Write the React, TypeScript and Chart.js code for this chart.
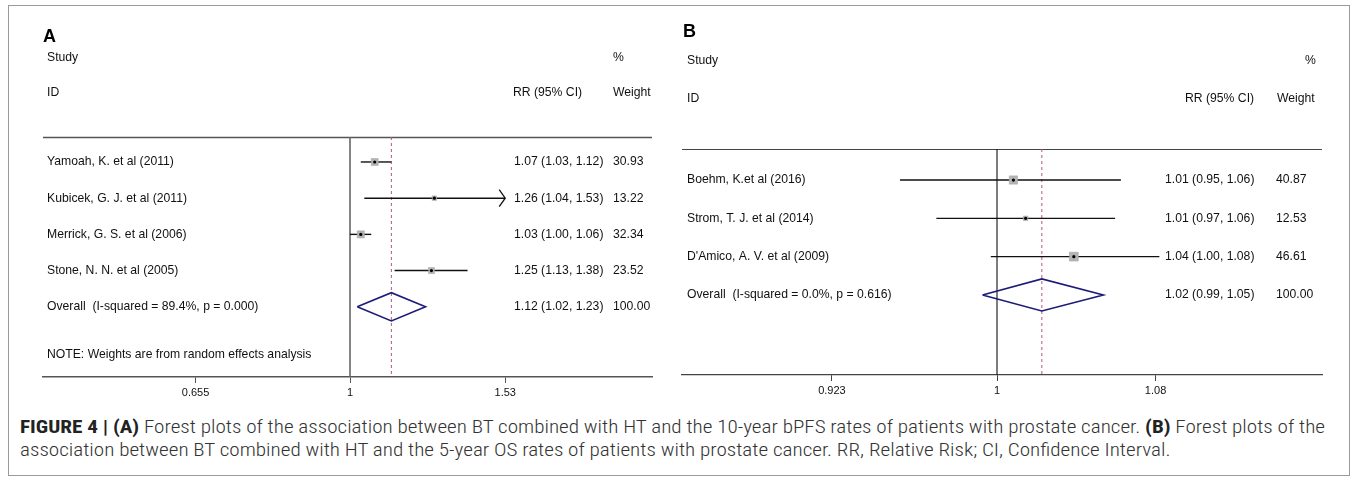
import React, { useEffect, useLayoutEffect, useRef } from "react";
import { Chart, registerables } from "chart.js";

Chart.register(...registerables);

const FONT = '"Liberation Sans", Arial, Helvetica, sans-serif';

// ---------------- Panel A data ----------------
const studiesA = [
  "Yamoah, K. et al (2011)",
  "Kubicek, G. J. et al (2011)",
  "Merrick, G. S. et al (2006)",
  "Stone, N. N. et al (2005)",
];
const rrA = [1.07, 1.26, 1.03, 1.25];
const lowerA = [1.03, 1.04, 1.0, 1.13];
const upperA = [1.12, 1.53, 1.06, 1.38];
const weightsA = [30.93, 13.22, 32.34, 23.52];
const arrowsA = [false, true, false, false];
const overallA = [1.12, 1.02, 1.23]; // RR, lower, upper
const overallLabelA = "Overall  (I-squared = 89.4%, p = 0.000)";
const noteA = "NOTE: Weights are from random effects analysis";
const tickValuesA = [0.655, 1, 1.53];
const tickLabelsA = ["0.655", "1", "1.53"];

// ---------------- Panel B data ----------------
const studiesB = [
  "Boehm, K.et al (2016)",
  "Strom, T. J. et al (2014)",
  "D'Amico, A. V. et al (2009)",
];
const rrB = [1.008, 1.014, 1.038];
const lowerB = [0.954, 0.971, 0.997];
const upperB = [1.062, 1.059, 1.082];
const weightsB = [40.87, 12.53, 46.61];
const arrowsB = [false, false, false];
const overallB = [1.022, 0.993, 1.053];
const overallLabelB = "Overall  (I-squared = 0.0%, p = 0.616)";
const tickValuesB = [0.923, 1, 1.08];
const tickLabelsB = ["0.923", "1", "1.08"];

type Panel = {
  letter: string;
  studies: string[];
  rr: number[];
  lower: number[];
  upper: number[];
  weights: number[];
  arrows: boolean[];
  overall: number[];
  overallLabel: string;
  note: string | null;
  tickValues: number[];
  tickLabels: string[];
  w: number;
  h: number;
  pad: { left: number; right: number; top: number; bottom: number };
  xMin: number;
  xMax: number;
  yMin: number;
  yMax: number;
  L: any;
};

const fmt = (v: number) => v.toFixed(2);

function buildConfig(p: Panel): any {
  const n = p.studies.length;
  const L = p.L;
  const datasets: any[] = [];
  p.studies.forEach((_, i) => {
    datasets.push({
      data: [
        { x: p.lower[i], y: i },
        { x: p.upper[i], y: i },
      ],
      order: 3,
      showLine: true,
      borderColor: "#111",
      borderWidth: 1.4,
      pointRadius: 0,
    });
    if (p.arrows[i]) {
      const back = p.upper[i] * Math.exp(-L.arrowLen);
      datasets.push({
        data: [
          { x: back, y: i - L.arrowH },
          { x: p.upper[i], y: i },
          { x: back, y: i + L.arrowH },
        ],
        order: 3,
        showLine: true,
        borderColor: "#111",
        borderWidth: 1.3,
        pointRadius: 0,
      });
    }
  });
  datasets.push({
    data: p.rr.map((v, i) => ({ x: v, y: i })),
    order: 2,
    showLine: false,
    pointStyle: "rect",
    pointRadius: p.weights.map((w) => (L.squareK * Math.sqrt(w)) / Math.SQRT2),
    backgroundColor: "#b4b4b4",
    borderColor: "#a0a0a0",
    borderWidth: 0.5,
  });
  datasets.push({
    data: p.rr.map((v, i) => ({ x: v, y: i })),
    order: 1,
    showLine: false,
    pointStyle: "circle",
    pointRadius: 1.6,
    backgroundColor: "#000",
    borderWidth: 0,
  });
  const [o, ol, ou] = p.overall;
  datasets.push({
    data: [
      { x: ol, y: n },
      { x: o, y: n - L.diamondH },
      { x: ou, y: n },
      { x: o, y: n + L.diamondH },
      { x: ol, y: n },
    ],
    order: 0,
    showLine: true,
    borderColor: "#1c1c78",
    borderWidth: 1.6,
    pointRadius: 0,
    fill: false,
  });

  const forestPlugin = {
    id: "forest" + p.letter,
    beforeDatasetsDraw(chart: any) {
      const { ctx, chartArea: a, scales } = chart;
      const x = scales.x;
      ctx.save();
      ctx.strokeStyle = L.axisColor;
      ctx.lineWidth = L.axisWidth;
      ctx.beginPath();
      ctx.moveTo(a.left, a.top + 0.5);
      ctx.lineTo(a.right, a.top + 0.5);
      ctx.stroke();
      const x1 = x.getPixelForValue(1);
      ctx.strokeStyle = L.refColor;
      ctx.lineWidth = L.refWidth;
      ctx.beginPath();
      ctx.moveTo(x1, a.top);
      ctx.lineTo(x1, a.bottom);
      ctx.stroke();
      const xo = x.getPixelForValue(p.overall[0]);
      ctx.setLineDash([3, 3]);
      ctx.strokeStyle = "#b5587c";
      ctx.lineWidth = 1;
      ctx.beginPath();
      ctx.moveTo(xo, a.top);
      ctx.lineTo(xo, a.bottom);
      ctx.stroke();
      ctx.restore();
    },
    afterDraw(chart: any) {
      const { ctx, scales } = chart;
      const y = scales.y;
      ctx.save();
      ctx.fillStyle = "#000";
      ctx.textBaseline = "middle";
      ctx.textAlign = "left";
      ctx.font = `bold 18px ${FONT}`;
      ctx.fillText(p.letter, L.letterX, L.letterY);
      ctx.fillStyle = "#111";
      ctx.font = `12.2px ${FONT}`;
      ctx.fillText("Study", L.leftX, L.studyY);
      ctx.fillText("ID", L.leftX, L.idY);
      ctx.fillText("%", L.pctX, L.studyY);
      ctx.fillText("RR (95% CI)", L.rrHeadX, L.idY);
      ctx.fillText("Weight", L.weightHeadX, L.idY);
      p.studies.forEach((s, i) => {
        const yy = y.getPixelForValue(i);
        ctx.fillText(s, L.leftX, yy);
        ctx.fillText(
          `${fmt(p.rr[i])} (${fmt(p.lower[i])}, ${fmt(p.upper[i])})`,
          L.rrX,
          yy
        );
        ctx.fillText(fmt(p.weights[i]), L.wX, yy);
      });
      const yo = y.getPixelForValue(n);
      ctx.fillText(p.overallLabel, L.leftX, yo);
      ctx.fillText(
        `${fmt(p.overall[0])} (${fmt(p.overall[1])}, ${fmt(p.overall[2])})`,
        L.rrX,
        yo
      );
      ctx.fillText("100.00", L.wX, yo);
      if (p.note) ctx.fillText(p.note, L.leftX, y.getPixelForValue(L.noteRow));
      ctx.restore();
    },
  };

  return {
    type: "scatter",
    data: { datasets },
    options: {
      responsive: false,
      animation: false,
      devicePixelRatio: 1,
      events: [],
      layout: { padding: p.pad },
      plugins: {
        legend: { display: false },
        tooltip: { enabled: false },
        title: { display: false },
      },
      scales: {
        x: {
          type: "logarithmic",
          position: "bottom",
          min: p.xMin,
          max: p.xMax,
          afterBuildTicks: (s: any) => {
            s.ticks = p.tickValues.map((v) => ({ value: v }));
          },
          afterFit: (s: any) => {
            s.height = 33;
          },
          ticks: {
            autoSkip: false,
            maxRotation: 0,
            padding: 3,
            color: "#111",
            font: { family: FONT, size: 11 },
            callback: (_v: any, idx: number) => p.tickLabels[idx],
          },
          grid: {
            display: true,
            drawOnChartArea: false,
            drawTicks: true,
            tickLength: 6,
            color: L.axisColor,
            lineWidth: 1,
          },
          border: { display: true, color: L.axisColor, width: L.axisWidth },
        },
        y: {
          type: "linear",
          reverse: true,
          min: p.yMin,
          max: p.yMax,
          display: false,
        },
      },
    },
    plugins: [forestPlugin],
  };
}

const panelA: Panel = {
  letter: "A",
  studies: studiesA,
  rr: rrA,
  lower: lowerA,
  upper: upperA,
  weights: weightsA,
  arrows: arrowsA,
  overall: overallA,
  overallLabel: overallLabelA,
  note: noteA,
  tickValues: tickValuesA,
  tickLabels: tickLabelsA,
  w: 662,
  h: 410,
  pad: { left: 35, right: 18, top: 132, bottom: 5 },
  xMin: Math.exp(-307 / 365),
  xMax: Math.exp(302 / 365),
  yMin: -0.69,
  yMax: 5.94,
  L: {
    letterX: 35,
    letterY: 32,
    leftX: 39,
    studyY: 53,
    idY: 88,
    pctX: 605,
    weightHeadX: 605,
    rrHeadX: 505,
    rrX: 506,
    wX: 605,
    noteRow: 5.33,
    diamondH: 0.39,
    arrowLen: 0.0165,
    arrowH: 0.235,
    squareK: 1.25,
    axisColor: "#555",
    axisWidth: 1.4,
    refColor: "#666",
    refWidth: 1.6,
  },
};

const panelB: Panel = {
  letter: "B",
  studies: studiesB,
  rr: rrB,
  lower: lowerB,
  upper: upperB,
  weights: weightsB,
  arrows: arrowsB,
  overall: overallB,
  overallLabel: overallLabelB,
  note: null,
  tickValues: tickValuesB,
  tickLabels: tickLabelsB,
  w: 680,
  h: 410,
  pad: { left: 12, right: 28, top: 144, bottom: 7 },
  xMin: Math.exp(-315 / 2060),
  xMax: Math.exp(325 / 2060),
  yMin: -0.81,
  yMax: 5.09,
  L: {
    letterX: 13,
    letterY: 27,
    leftX: 17,
    studyY: 56,
    idY: 94,
    pctX: 635,
    weightHeadX: 607,
    rrHeadX: 515,
    rrX: 495,
    wX: 606,
    noteRow: 5,
    diamondH: 0.42,
    arrowLen: 0.003,
    arrowH: 0.22,
    squareK: 1.3,
    axisColor: "#444",
    axisWidth: 1.2,
    refColor: "#111",
    refWidth: 1.1,
  },
};

function ForestCanvas({ panel, left, top }: { panel: Panel; left: number; top: number }) {
  const ref = useRef<HTMLCanvasElement | null>(null);
  useEffect(() => {
    if (!ref.current) return;
    const chart = new Chart(ref.current, buildConfig(panel));
    return () => chart.destroy();
  }, [panel]);
  return (
    <canvas
      ref={ref}
      width={panel.w}
      height={panel.h}
      style={{ position: "absolute", left, top, width: panel.w, height: panel.h }}
    />
  );
}

function Caption() {
  const line1 = useRef<HTMLSpanElement | null>(null);
  const box = useRef<HTMLDivElement | null>(null);
  useLayoutEffect(() => {
    if (!line1.current || !box.current) return;
    const w = line1.current.getBoundingClientRect().width;
    if (w > 0) box.current.style.transform = `scaleX(${1305 / w})`;
  }, []);
  return (
    <div
      ref={box}
      style={{
        position: "absolute",
        left: 20,
        top: 415,
        transformOrigin: "0 0",
        whiteSpace: "nowrap",
        fontFamily: '"Liberation Sans Narrow", "Roboto Condensed", Roboto, sans-serif',
        fontSize: 18,
        fontWeight: 300,
        lineHeight: "23px",
        color: "#333",
      }}
    >
      <span ref={line1}>
        <b style={{ color: "#222", fontWeight: 700 }}>FIGURE 4 | (A)</b> Forest plots of the
        association between BT combined with HT and the 10-year bPFS rates of patients with
        prostate cancer. <b style={{ color: "#222", fontWeight: 700 }}>(B)</b> Forest plots of the
      </span>
      <br />
      <span>
        association between BT combined with HT and the 5-year OS rates of patients with prostate
        cancer. RR, Relative Risk; CI, Confidence Interval.
      </span>
    </div>
  );
}

export default function App() {
  return (
    <div
      style={{
        position: "absolute",
        left: 0,
        top: 0,
        width: 1357,
        height: 482,
        background: "#fff",
        overflow: "hidden",
      }}
    >
      <div
        style={{
          position: "absolute",
          left: 8,
          top: 5,
          width: 1342,
          height: 471,
          border: "1px solid #9a9a9a",
          boxSizing: "border-box",
        }}
      />
      <ForestCanvas panel={panelA} left={8} top={5} />
      <ForestCanvas panel={panelB} left={670} top={5} />
      <Caption />
    </div>
  );
}
